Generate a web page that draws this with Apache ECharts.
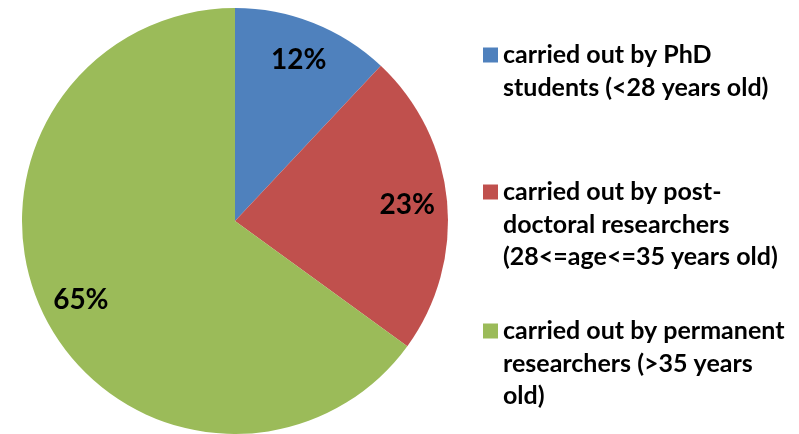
<!DOCTYPE html>
<html>
<head>
<meta charset="utf-8">
<script src="https://cdn.jsdelivr.net/npm/echarts@6/dist/echarts.min.js"></script>
<style>
  html, body { margin: 0; padding: 0; background: #fff; }
  #chart { width: 799px; height: 434px; }
</style>
</head>
<body>
<div id="chart"></div>
<script>
const categories = [
  'carried out by PhD students (<28 years old)',
  'carried out by post-doctoral researchers (28<=age<=35 years old)',
  'carried out by permanent researchers (>35 years old)'
];
const legendLines = [
  ['carried out by PhD', 'students (<28 years old)'],
  ['carried out by post-', 'doctoral researchers', '(28<=age<=35 years old)'],
  ['carried out by permanent', 'researchers (>35 years', 'old)']
];
const shares = [12, 23, 65];
const colors = ['#4F81BD', '#C0504D', '#9BBB59'];

const font = 'Lato, Calibri, sans-serif';
const lineH = 32.5;
const pieData = categories.map((name, i) => ({ name, value: shares[i], itemStyle: { color: colors[i] } }));

// one legend per entry; blank lines on top keep the swatch level with the first line
const swatchMid = [55, 192, 331];
const legends = categories.map((name, i) => {
  const lines = legendLines[i];
  const pad = lines.length - 1;
  const text = '\n'.repeat(pad) + lines.join('\n');
  return {
    data: [name],
    orient: 'vertical',
    left: 483,
    top: swatchMid[i] - (lines.length + pad) * lineH / 2,
    padding: 0,
    icon: 'rect',
    itemWidth: 15,
    itemHeight: 15,
    selectedMode: false,
    formatter: () => text,
    textStyle: {
      fontFamily: font,
      fontWeight: 'bold',
      fontSize: 25,
      color: '#000',
      lineHeight: lineH
    }
  };
});

const chart = echarts.init(document.getElementById('chart'));
chart.setOption({
  animation: false,
  legend: legends,
  series: [
    {
      type: 'pie',
      center: [235, 221],
      radius: [0, 213],
      startAngle: 90,
      clockwise: true,
      silent: true,
      label: { show: false },
      labelLine: { show: false },
      itemStyle: { borderWidth: 0 },
      data: pieData
    },
    {
      // transparent ring only to carry the percentage labels further out
      type: 'pie',
      center: [235, 221],
      radius: [127, 213],
      startAngle: 90,
      clockwise: true,
      silent: true,
      itemStyle: { color: 'rgba(0,0,0,0)', borderWidth: 0 },
      label: {
        show: true,
        position: 'inside',
        formatter: '{c}%',
        fontFamily: font,
        fontWeight: 'bold',
        fontSize: 28,
        color: '#000'
      },
      labelLine: { show: false },
      data: categories.map((name, i) => ({ name: name + ' ', value: shares[i] }))
    }
  ]
});
</script>
</body>
</html>
